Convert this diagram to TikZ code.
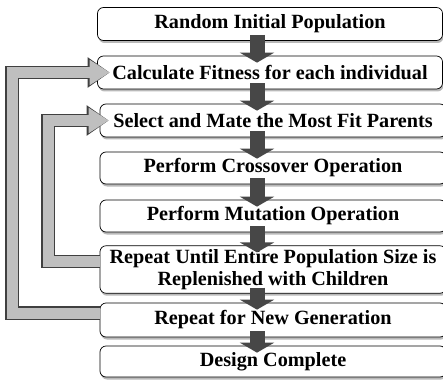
\documentclass[tikz,border=0pt]{standalone}
\usepackage{fontspec}
\setmainfont{Liberation Serif}
\usetikzlibrary{arrows.meta,shadows,calc}

\begin{document}
\begin{tikzpicture}[x=1pt,y=-1pt]
\tikzstyle{stage}=[
  rectangle, rounded corners=6pt,
  draw, line width=0.7pt, fill=white,
  drop shadow={shadow xshift=1pt, shadow yshift=-2.5pt, fill=black!55},
  minimum width=346pt, minimum height=33pt, align=center,
  font=\fontsize{20.2}{22.5}\selectfont\bfseries ]
\tikzstyle{advance}=[line width=15pt, draw=black!72,
  -{Triangle[length=10pt,width=34pt]}]
\tikzstyle{feedback}=[line width=11pt, draw=black!25,
  -{Triangle[length=20pt,width=24pt]},
  preaction={draw=black!75, line width=13.5pt, -{Triangle[length=22pt,width=29pt]}}]
\useasboundingbox (0,0) rectangle (443,379);
\clip (0,0) rectangle (443,379);
\node[stage, minimum width=345pt] (init) at (270,24) {Random Initial Population};
\node[stage, minimum width=345pt] (fitness) at (270,72.5) {Calculate Fitness for each individual};
\node[stage] (select) at (273,120.5) {Select and Mate the Most Fit Parents};
\node[stage, minimum height=32pt] (cross) at (273,168) {Perform Crossover Operation};
\node[stage, minimum height=32pt] (mutate) at (273,216) {Perform Mutation Operation};
\node[stage, minimum height=45pt] (refill) at (273,269.5) {Repeat Until Entire Population Size is\\Replenished with Children};
\node[stage, minimum height=34pt] (newgen) at (273,320) {Repeat for New Generation};
\node[stage, minimum height=31pt] (done) at (273,361.5) {Design Complete};
\coordinate (ax) at (257,0);
\coordinate (outer) at (12,200);
\coordinate (inner) at (48,200);
\foreach \a/\b in {init/fitness, fitness/select, select/cross, cross/mutate,
  mutate/refill, refill/newgen, newgen/done}
  \draw[advance] ($(\a.south -| ax)+(0,-6)$) -- ($(\b.north -| ax)+(0,7)$);
\draw[feedback] ($(newgen.west)+(0,-7)$) -| (outer) |- ($(fitness.west)+(12.5,0)$);
\draw[feedback] ($(refill.west)+(0,-8)$) -| (inner) |- ($(select.west)+(9,0)$);
\end{tikzpicture}
\end{document}
